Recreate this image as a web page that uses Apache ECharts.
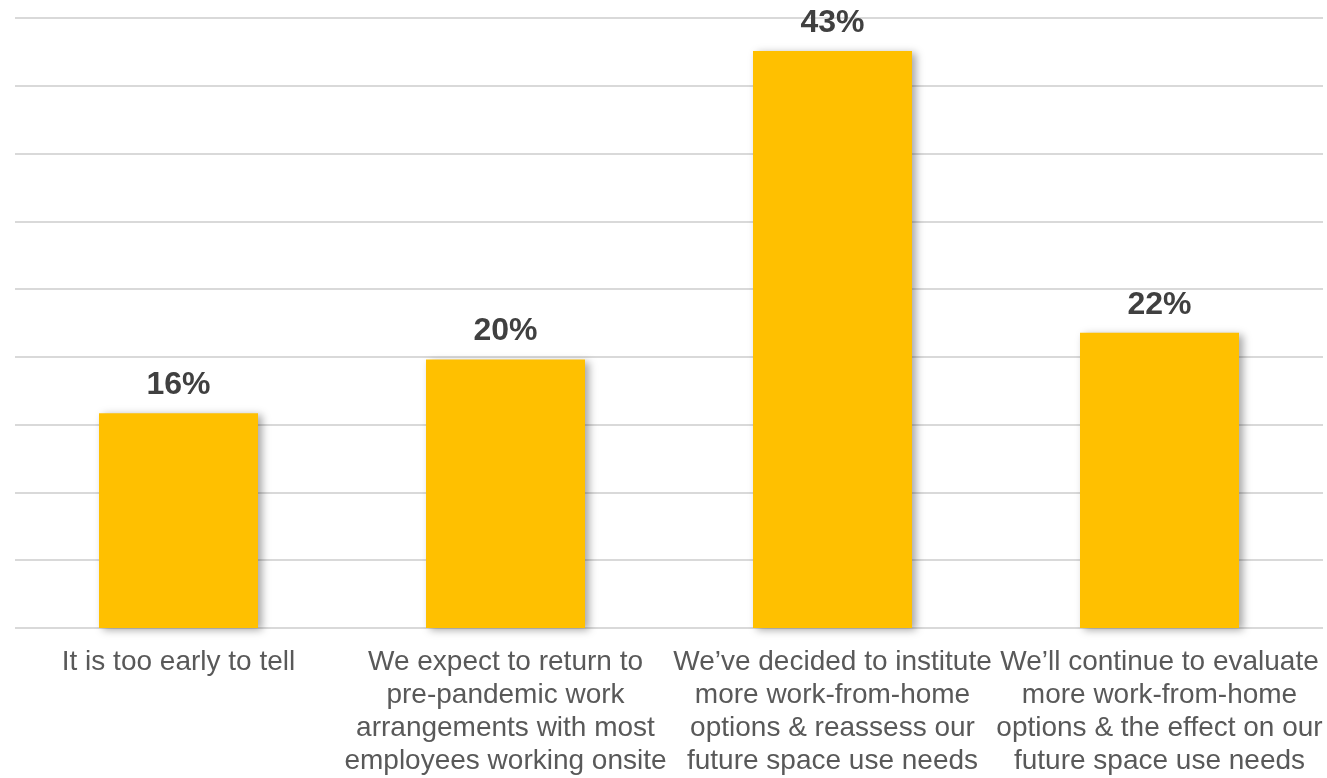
<!DOCTYPE html>
<html>
<head>
<meta charset="utf-8">
<style>
  html, body { margin: 0; padding: 0; background: #ffffff; }
  #chart { width: 1327px; height: 778px; }
</style>
<script src="https://cdn.jsdelivr.net/npm/echarts@6/dist/echarts.min.js"></script>
</head>
<body>
<div id="chart"></div>
<script>
// Survey responses: plans for work arrangements
const categories = [
  "It is too early to tell",
  "We expect to return to\npre-pandemic work\narrangements with most\nemployees working onsite",
  "We\u2019ve decided to institute\nmore work-from-home\noptions & reassess our\nfuture space use needs",
  "We\u2019ll continue to evaluate\nmore work-from-home\noptions & the effect on our\nfuture space use needs"
];
const shares = [16, 20, 43, 22]; // percent of respondents

const chart = echarts.init(document.getElementById('chart'), null, { renderer: 'canvas' });

chart.setOption({
  animation: false,
  backgroundColor: '#ffffff',
  grid: { left: 15, right: 4, top: 18, bottom: 145, containLabel: false },
  xAxis: {
    type: 'category',
    data: categories,
    axisLine: { show: false },
    axisTick: { show: false },
    axisLabel: {
      interval: 0,
      margin: 18,
      color: '#595959',
      fontFamily: 'Liberation Sans, Arial, sans-serif',
      fontSize: 28,
      lineHeight: 33,
      align: 'center'
    }
  },
  yAxis: {
    type: 'value',
    min: 0,
    max: 45.45,
    interval: 5.05,
    axisLabel: { show: false },
    axisLine: { show: false },
    axisTick: { show: false },
    splitLine: { lineStyle: { color: '#d9d9d9', width: 2 } }
  },
  series: [{
    type: 'bar',
    data: shares,
    barWidth: 159,
    itemStyle: {
      color: '#FFC000',
      shadowColor: 'rgba(0,0,0,0.35)',
      shadowBlur: 8,
      shadowOffsetX: 4,
      shadowOffsetY: 2
    },
    label: {
      show: true,
      position: 'top',
      distance: 12,
      formatter: p => p.value + '%',
      color: '#404040',
      fontWeight: 'bold',
      fontSize: 32,
      fontFamily: 'Liberation Sans, Arial, sans-serif'
    }
  }]
});
</script>
</body>
</html>
